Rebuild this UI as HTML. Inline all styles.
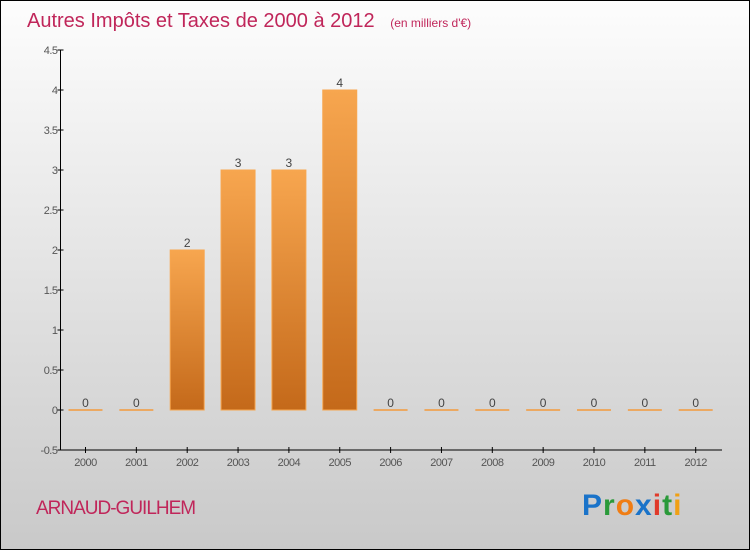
<!DOCTYPE html>
<html><head><meta charset="utf-8"><style>
body{margin:0;width:750px;height:550px;overflow:hidden;font-family:"Liberation Sans",sans-serif}
</style></head><body>
<svg width="750" height="550" viewBox="0 0 750 550">
<defs>
<linearGradient id="bg" x1="0" y1="0" x2="0" y2="1"><stop offset="0" stop-color="#fdfdfd"/><stop offset="1" stop-color="#c9c9c9"/></linearGradient>
<linearGradient id="bar" x1="0" y1="0" x2="0" y2="1"><stop offset="0" stop-color="#f7a64f"/><stop offset="1" stop-color="#c4691a"/></linearGradient>
</defs>
<rect x="0.5" y="0.5" width="749" height="549" fill="url(#bg)" stroke="#000"/>
<text x="27" y="27" font-size="20" fill="#c0265a">Autres Impôts et Taxes de 2000 à 2012 <tspan font-size="12" dx="10">(en milliers d'€)</tspan></text>
<g id="plot"></g>
<text x="36" y="514" font-size="19" fill="#c0265a" letter-spacing="-1">ARNAUD-GUILHEM</text>
<text x="582" y="515" font-size="30" font-weight="bold" letter-spacing="1"><tspan fill="#1a73c9">P</tspan><tspan fill="#2a9a3a">r</tspan><tspan fill="#f07d14">o</tspan><tspan fill="#1a73c9">x</tspan><tspan fill="#e03a2a">i</tspan><tspan fill="#2a9a3a">t</tspan><tspan fill="#f0a014">i</tspan></text>
</svg>
<script>
const years=["2000","2001","2002","2003","2004","2005","2006","2007","2008","2009","2010","2011","2012"];
const values=[0,0,2,3,3,4,0,0,0,0,0,0,0];
const yTicks=[-0.5,0,0.5,1,1.5,2,2.5,3,3.5,4,4.5];
const yTickLabels=["-0.5","0","0.5","1","1.5","2","2.5","3","3.5","4","4.5"];
const NS="http://www.w3.org/2000/svg";
const g=document.getElementById('plot');
const x0=60.5,x1=722,yTop=50,yBot=450,vMin=-0.5,vMax=4.5;
const y=v=>yBot-(v-vMin)/(vMax-vMin)*(yBot-yTop);
const step=50.85;
const xc=i=>85.5+i*step;
function mk(t,a){const e=document.createElementNS(NS,t);for(const k in a)e.setAttribute(k,a[k]);g.appendChild(e);return e;}
let ax=mk('line',{x1:x0,y1:yTop,x2:x0,y2:yBot,stroke:'#000'});


ax=mk('line',{x1:x0,y1:yBot,x2:x1,y2:yBot,stroke:'#000'});


yTicks.forEach((v,i)=>{
  const t=mk('line',{x1:x0-3,y1:y(v),x2:x0+3,y2:y(v),stroke:'#000'});
  
  
  const l=mk('text',{x:x0-3,y:y(v)+4,'font-size':11,fill:'#555','text-anchor':'end','letter-spacing':'-0.5'});
  l.textContent=yTickLabels[i];
  
  
});
years.forEach((yr,i)=>{
  const cx=xc(i);
  const t=mk('line',{x1:cx,y1:yBot-3,x2:cx,y2:yBot+3,stroke:'#000'});
  
  
  const l=mk('text',{x:cx,y:yBot+16,'font-size':11,fill:'#555','text-anchor':'middle','letter-spacing':'-0.5'});
  l.textContent=yr;
  
  
  const v=values[i];
  if(v>0){
    const b=mk('rect',{x:cx-17,y:y(v),width:34,height:y(0)-y(v),fill:'url(#bar)',stroke:'#f7a64f','stroke-width':1});
    
    
  } else {
    const b=mk('line',{x1:cx-17,y1:y(0),x2:cx+17,y2:y(0),stroke:'#f39a3c','stroke-width':1.5});
    
    
  }
  const vl=mk('text',{x:cx,y:y(v)-3,'font-size':12,fill:'#444','text-anchor':'middle'});
  vl.textContent=v;
  
  
});
</script>
</body></html>
